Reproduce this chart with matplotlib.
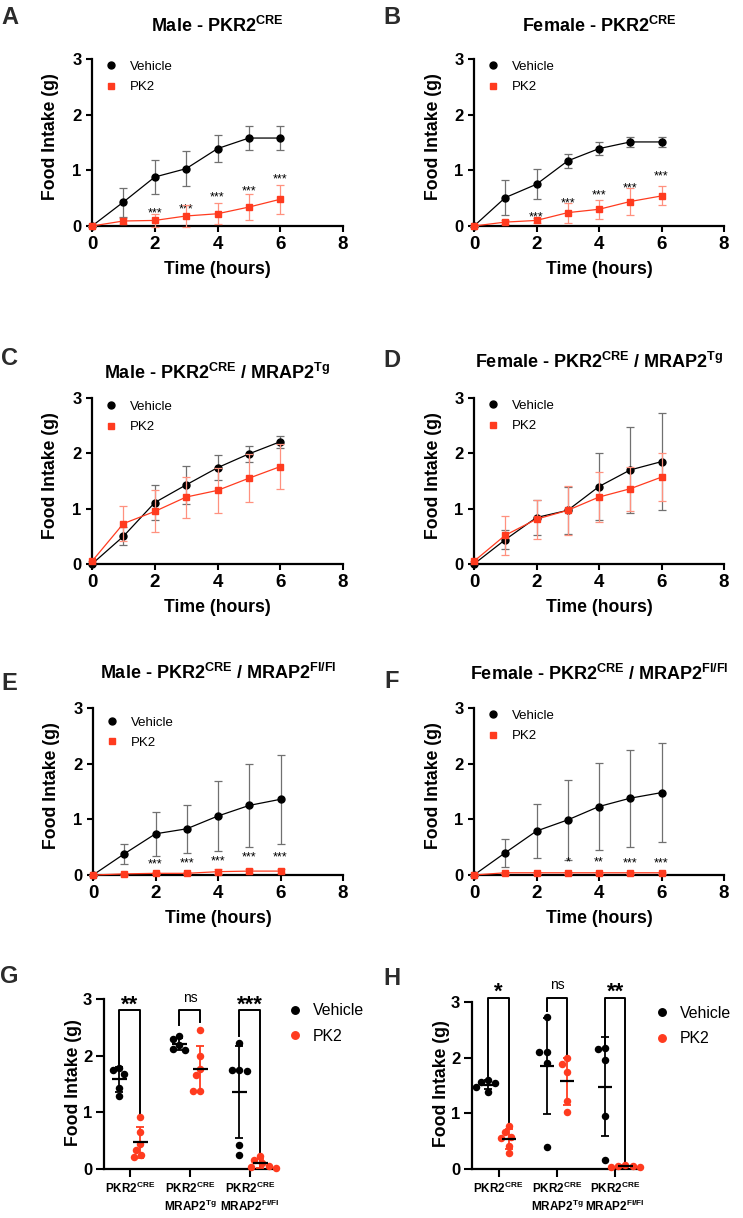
import numpy as np
import matplotlib
matplotlib.use('Agg')
import matplotlib.pyplot as plt
from matplotlib.lines import Line2D

plt.rcParams['font.family'] = ['Liberation Sans', 'DejaVu Sans']
plt.rcParams['font.weight'] = 'bold'
plt.rcParams['axes.labelweight'] = 'bold'
plt.rcParams['mathtext.fontset'] = 'custom'
plt.rcParams['mathtext.rm'] = 'Liberation Sans:bold'
plt.rcParams['mathtext.bf'] = 'Liberation Sans:bold'
plt.rcParams['mathtext.it'] = 'Liberation Sans:bold:italic'

RED = '#ff3b1f'
ERR_GRAY = '#707070'
ERR_RED = '#ff917f'
LETTER = '#2b2b2b'

# ---- time course data (mean, SD) ----
hours = [0, 1, 2, 3, 4, 5, 6]

a_veh = [0, 0.43, 0.88, 1.03, 1.39, 1.58, 1.58]
a_veh_sd = [0, 0.26, 0.31, 0.31, 0.24, 0.21, 0.21]
a_pk2 = [0, 0.09, 0.10, 0.18, 0.22, 0.34, 0.48]
a_pk2_sd = [0, 0.06, 0.12, 0.20, 0.19, 0.24, 0.26]
a_stars = ['', '', '***', '***', '***', '***', '***']
a_star_y = [0, 0, 0.30, 0.36, 0.59, 0.69, 0.90]

b_veh = [0, 0.51, 0.75, 1.17, 1.39, 1.51, 1.51]
b_veh_sd = [0, 0.31, 0.27, 0.13, 0.12, 0.09, 0.09]
b_pk2 = [0, 0.07, 0.10, 0.24, 0.30, 0.44, 0.54]
b_pk2_sd = [0, 0.03, 0.05, 0.18, 0.17, 0.24, 0.17]
b_stars = ['', '', '***', '***', '***', '***', '***']
b_star_y = [0, 0, 0.23, 0.48, 0.62, 0.75, 0.96]

c_veh = [0, 0.50, 1.11, 1.43, 1.74, 1.99, 2.21]
c_veh_sd = [0, 0.16, 0.31, 0.35, 0.23, 0.15, 0.11]
c_pk2 = [0.05, 0.73, 0.95, 1.21, 1.33, 1.55, 1.76]
c_pk2_sd = [0, 0.31, 0.38, 0.37, 0.41, 0.43, 0.40]

d_veh = [0, 0.44, 0.84, 0.97, 1.40, 1.70, 1.85]
d_veh_sd = [0, 0.17, 0.32, 0.43, 0.60, 0.78, 0.87]
d_pk2 = [0.05, 0.52, 0.81, 0.97, 1.21, 1.36, 1.57]
d_pk2_sd = [0, 0.35, 0.35, 0.44, 0.45, 0.40, 0.44]

e_veh = [0, 0.38, 0.74, 0.83, 1.06, 1.25, 1.36]
e_veh_sd = [0, 0.18, 0.40, 0.43, 0.62, 0.74, 0.80]
e_pk2 = [0, 0.02, 0.03, 0.03, 0.06, 0.07, 0.07]
e_pk2_sd = [0, 0.02, 0.02, 0.02, 0.04, 0.04, 0.04]
e_stars = ['', '', '***', '***', '***', '***', '***']
e_star_y = [0, 0, 0.26, 0.28, 0.32, 0.39, 0.39]

f_veh = [0, 0.40, 0.79, 0.99, 1.23, 1.38, 1.48]
f_veh_sd = [0, 0.25, 0.49, 0.72, 0.78, 0.87, 0.89]
f_pk2 = [0, 0.04, 0.04, 0.04, 0.04, 0.04, 0.04]
f_pk2_sd = [0, 0.02, 0.02, 0.02, 0.02, 0.02, 0.02]
f_stars = ['', '', '', '*', '**', '***', '***']
f_star_y = [0, 0, 0, 0.30, 0.30, 0.28, 0.28]

# ---- 6 h individual values ----
group_labels = ['PKR2$^{\\mathbf{CRE}}$',
                'PKR2$^{\\mathbf{CRE}}$\nMRAP2$^{\\mathbf{Tg}}$',
                'PKR2$^{\\mathbf{CRE}}$\nMRAP2$^{\\mathbf{Fl/Fl}}$']

g_veh = [[1.79, 1.74, 1.68, 1.43, 1.28],
         [2.35, 2.30, 2.18, 2.12, 2.10],
         [2.22, 1.75, 1.74, 1.73, 0.43, 0.25]]
g_pk2 = [[0.92, 0.66, 0.44, 0.34, 0.25, 0.21],
         [2.45, 1.99, 1.76, 1.66, 1.38, 1.38],
         [0.23, 0.16, 0.10, 0.05, 0.04, 0.02]]
g_sig = ['**', 'ns', '***']

h_veh = [[1.59, 1.57, 1.54, 1.47, 1.39],
         [2.73, 2.10, 2.11, 1.91, 0.40],
         [2.17, 2.15, 1.95, 0.96, 0.17]]
h_pk2 = [[0.78, 0.66, 0.57, 0.55, 0.42, 0.28],
         [1.99, 1.89, 1.75, 1.23, 1.02],
         [0.07, 0.06, 0.05, 0.04, 0.03]]
h_sig = ['*', 'ns', '**']

W, H = 743, 1218
fig = plt.figure(figsize=(W / 100, H / 100), dpi=100)


def px_axes(left, top, right, bottom):
    return fig.add_axes([left / W, 1 - bottom / H, (right - left) / W, (bottom - top) / H])


def style_axes(ax, tick_len=4.5):
    for s in ['top', 'right']:
        ax.spines[s].set_visible(False)
    for s in ['left', 'bottom']:
        ax.spines[s].set_linewidth(1.6)
    ax.tick_params(width=1.5, length=tick_len, pad=3)


def line_panel(ax, veh, veh_sd, pk2, pk2_sd, title, title_off, leg_y,
               stars=None, star_y=None):
    ax.errorbar(hours, veh, yerr=veh_sd, color='black', ecolor=ERR_GRAY, marker='o',
                ms=5, lw=0.9, elinewidth=0.9, capsize=2.8, capthick=0.9,
                clip_on=False, zorder=3)
    ax.errorbar(hours, pk2, yerr=pk2_sd, color=RED, ecolor=ERR_RED, marker='s',
                ms=4.6, lw=0.9, elinewidth=0.9, capsize=2.8, capthick=0.9,
                clip_on=False, zorder=4)
    if stars:
        for x, s, y in zip(hours, stars, star_y):
            if s:
                ax.annotate(s, (x, y), xytext=(0, -5), textcoords='offset points',
                            ha='center', va='baseline', fontsize=9, fontweight='normal',
                            annotation_clip=False)
    ax.set_xlim(0, 8)
    ax.set_ylim(0, 3)
    ax.set_xticks([0, 2, 4, 6, 8], ['0', '2', '4', '6', '8'], fontsize=13.5)
    ax.set_yticks([0, 1, 2, 3], ['0', '1', '2', '3'], fontsize=12)
    style_axes(ax)
    ax.set_xlabel('Time (hours)', fontsize=12.7)
    ax.xaxis.set_label_coords(0.5, -0.21)
    ax.set_ylabel('Food Intake (g)', fontsize=12.7)
    ax.yaxis.set_label_coords(-0.13, 0.535)
    h_px = ax.get_position().height * H
    ax.text(0.5, 1 + title_off / h_px, title, transform=ax.transAxes, ha='center',
            va='baseline', fontsize=13)
    handles = [Line2D([], [], marker='o', ls='none', color='black', ms=5),
               Line2D([], [], marker='s', ls='none', color=RED, ms=4.6)]
    ax.legend(handles, ['Vehicle', 'PK2'], loc='upper left',
              bbox_to_anchor=(0.05, leg_y), frameon=False,
              prop={'size': 9.5, 'weight': 'normal'}, handlelength=1.0,
              handletextpad=0.95, labelspacing=0.62, borderpad=0, borderaxespad=0)


def swarm_offsets(vals_px, d):
    # simple beeswarm: horizontal pixel offsets so that dots do not overlap
    placed = []
    for y in vals_px:
        cands = [0.0]
        for px, py in placed:
            dx = np.sqrt(max(d * d - (y - py) ** 2, 0.0))
            cands += [px - dx, px + dx]
        cands.sort(key=abs)
        for c in cands:
            if all((c - px) ** 2 + (y - py) ** 2 >= d * d - 1e-6 for px, py in placed):
                break
        placed.append((c, y))
    return np.array([p[0] for p in placed])


def scatter_panel(ax, veh, pk2, sig, xlim, br_top, br_left, br_right, sig_y, leg_x):
    ax.set_xlim(*xlim)
    ax.set_ylim(0, 3)
    pos = ax.get_position()
    xs = pos.width * W / (xlim[1] - xlim[0])
    ys = pos.height * H / 3.0
    dot = 5.4
    d = dot * 100 / 72
    off = 0.175
    for i, (v, p) in enumerate(zip(veh, pk2)):
        for vals, x, c in [(v, i - off, 'black'), (p, i + off, RED)]:
            vals = np.array(vals)
            ox = swarm_offsets(vals * ys, d) / xs
            ax.scatter(x + ox, vals, s=dot ** 2, color=c, linewidths=0,
                       clip_on=False, zorder=3)
            m, sd = np.mean(vals), np.std(vals, ddof=1)
            ax.errorbar([x], [m], yerr=[sd], fmt='none', ecolor=c, elinewidth=1.3,
                        capsize=3.2, capthick=1.3, zorder=4, clip_on=False)
            ax.hlines(m, x - 0.125, x + 0.125, color='black', lw=1.6, zorder=5)
        ax.plot([i - off, i - off, i + off, i + off], [br_left[i], br_top, br_top, br_right[i]],
                color='black', lw=1.4, clip_on=False, zorder=2)
        if sig[i] == 'ns':
            ax.text(i, sig_y, 'ns', ha='center', va='center', fontsize=10,
                    fontweight='normal', clip_on=False)
        else:
            ax.annotate(sig[i], (i, sig_y), xytext=(0, -9), textcoords='offset points',
                        ha='center', va='baseline', fontsize=16, annotation_clip=False)
    ax.set_xticks([0, 1, 2], group_labels, fontsize=8.5)
    ax.set_yticks([0, 1, 2, 3], ['0', '1', '2', '3'], fontsize=12)
    style_axes(ax, tick_len=5.5)
    ax.set_ylabel('Food Intake (g)', fontsize=12.7)
    ax.yaxis.set_label_coords(-0.13, 0.51)
    handles = [Line2D([], [], marker='o', ls='none', color='black', ms=dot),
               Line2D([], [], marker='o', ls='none', color=RED, ms=dot)]
    ax.legend(handles, ['Vehicle', 'PK2'], loc='upper left',
              bbox_to_anchor=(leg_x, 0.976), frameon=False,
              prop={'size': 11.4, 'weight': 'normal'}, handlelength=1.0,
              handletextpad=0.63, labelspacing=0.66, borderpad=0, borderaxespad=0)


ax = px_axes(92, 59, 343, 226)
line_panel(ax, a_veh, a_veh_sd, a_pk2, a_pk2_sd, 'Male - PKR2$^{\\mathbf{CRE}}$', 27, 0.99,
           a_stars, a_star_y)
ax = px_axes(474, 59, 724, 226)
line_panel(ax, b_veh, b_veh_sd, b_pk2, b_pk2_sd, 'Female - PKR2$^{\\mathbf{CRE}}$', 27, 0.99,
           b_stars, b_star_y)
ax = px_axes(92, 398, 343, 564)
line_panel(ax, c_veh, c_veh_sd, c_pk2, c_pk2_sd,
           'Male - PKR2$^{\\mathbf{CRE}}$ / MRAP2$^{\\mathbf{Tg}}$', 19, 0.985)
ax = px_axes(474, 398, 724, 564)
line_panel(ax, d_veh, d_veh_sd, d_pk2, d_pk2_sd,
           'Female - PKR2$^{\\mathbf{CRE}}$ / MRAP2$^{\\mathbf{Tg}}$', 30, 0.99)
ax = px_axes(93, 708, 343, 875)
line_panel(ax, e_veh, e_veh_sd, e_pk2, e_pk2_sd,
           'Male - PKR2$^{\\mathbf{CRE}}$ / MRAP2$^{\\mathbf{Fl/Fl}}$', 29, 0.95,
           e_stars, e_star_y)
ax = px_axes(474, 708, 724, 875)
line_panel(ax, f_veh, f_veh_sd, f_pk2, f_pk2_sd,
           'Female - PKR2$^{\\mathbf{CRE}}$ / MRAP2$^{\\mathbf{Fl/Fl}}$', 28, 0.99,
           f_stars, f_star_y)

ax = px_axes(104, 999, 275, 1169)
scatter_panel(ax, g_veh, g_pk2, g_sig, (-0.433, 2.417), 2.80,
              [1.86, 2.54, 2.35], [0.95, 2.60, 0.05], 3.02, 1.070)
ax = px_axes(472, 1002, 640, 1169)
scatter_panel(ax, h_veh, h_pk2, h_sig, (-0.458, 2.424), 3.08,
              [1.67, 2.84, 2.25], [0.82, 2.05, 0.11], 3.30, 1.083)

for letter, x, y in [('A', 1, 24), ('B', 383, 24), ('C', 1, 365), ('D', 383, 367),
                     ('E', 1, 690), ('F', 384, 688), ('G', 0, 983), ('H', 383, 985)]:
    fig.text(x / W, 1 - y / H, letter, fontsize=17, color=LETTER, va='baseline', ha='left')

fig.savefig('out.png', dpi=100)
